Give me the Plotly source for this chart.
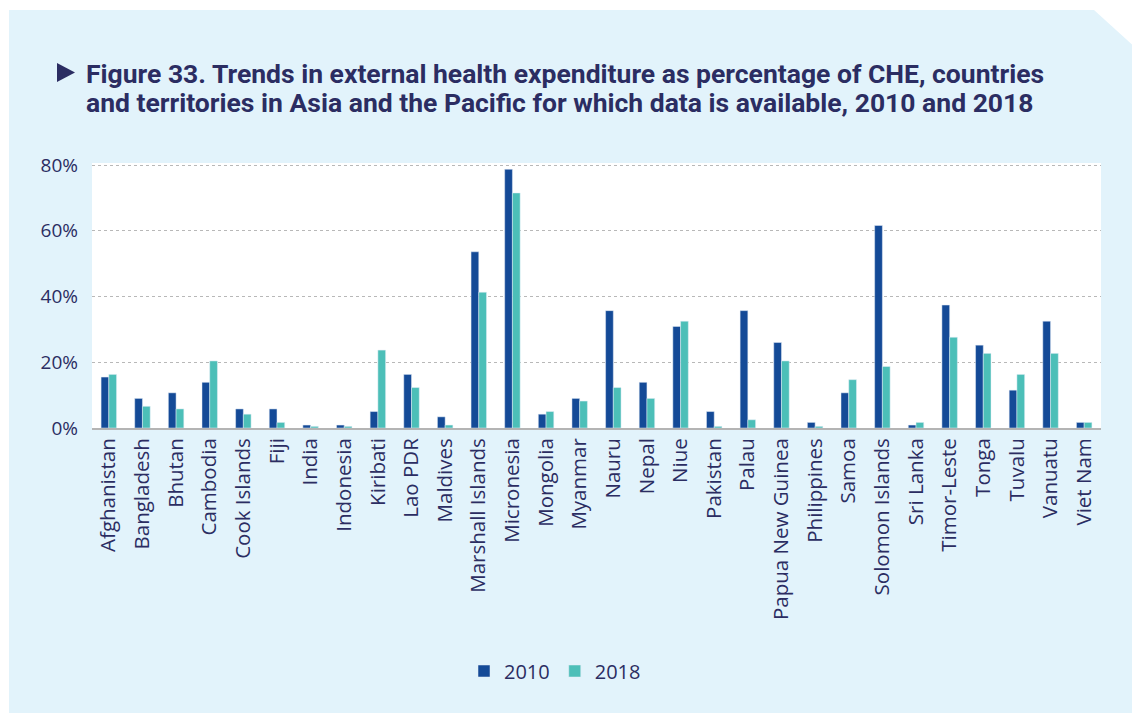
import plotly.graph_objects as go

# External health expenditure as share of current health expenditure (CHE), %
countries = [
    "Afghanistan", "Bangladesh", "Bhutan", "Cambodia", "Cook Islands", "Fiji",
    "India", "Indonesia", "Kiribati", "Lao PDR", "Maldives", "Marshall Islands",
    "Micronesia", "Mongolia", "Myanmar", "Nauru", "Nepal", "Niue", "Pakistan",
    "Palau", "Papua New Guinea", "Philippines", "Samoa", "Solomon Islands",
    "Sri Lanka", "Timor-Leste", "Tonga", "Tuvalu", "Vanuatu", "Viet Nam",
]
ext_2010 = [15.5, 9.0, 10.7, 13.9, 5.8, 5.8, 0.9, 0.9, 5.0, 16.3, 3.4, 53.6,
            78.7, 4.2, 9.0, 35.7, 13.9, 30.9, 5.0, 35.7, 26.0, 1.7, 10.7, 61.6,
            0.9, 37.4, 25.2, 11.5, 32.5, 1.7]
ext_2018 = [16.3, 6.6, 5.8, 20.4, 4.2, 1.7, 0.5, 0.5, 23.7, 12.3, 0.9, 41.3,
            71.5, 5.0, 8.2, 12.3, 9.0, 32.5, 0.5, 2.5, 20.4, 0.5, 14.7, 18.7,
            1.7, 27.6, 22.7, 16.3, 22.7, 1.7]
y_ticks = [0, 20, 40, 60, 80]
y_tick_labels = ["0%", "20%", "40%", "60%", "80%"]
title_lines = [
    "Figure 33. Trends in external health expenditure as percentage of CHE, countries",
    "and territories in Asia and the Pacific for which data is available, 2010 and 2018",
]

W, H = 1132, 713
L, R, T, B = 92, 31, 163, 285
PW, PH = W - L - R, H - T - B
Y_MAX = 80 * PH / (PH - 2)  # leaves the 80% gridline just inside the plot area

NAVY_TEXT = "#2b2d62"
PANEL = "#e2f3fb"
C2010 = "#144a97"
C2018 = "#4cbfb8"


def px(x):
    return (x - L) / PW


def py(y):
    return (H - B - y) / PH


fig = go.Figure()
fig.add_trace(go.Bar(name="2010", x=countries, y=ext_2010, marker_color=C2010))
fig.add_trace(go.Bar(name="2018", x=countries, y=ext_2018, marker_color=C2018))

shapes = [
    # white margins outside the light-blue panel
    dict(type="rect", xref="paper", yref="paper", x0=px(-5), x1=px(9), y0=py(720), y1=py(-5),
         fillcolor="white", line_width=0, layer="below"),
    dict(type="rect", xref="paper", yref="paper", x0=px(-5), x1=px(W + 5), y0=py(10), y1=py(-5),
         fillcolor="white", line_width=0, layer="below"),
    dict(type="path", xref="paper", yref="paper",
         path=f"M {px(1094)},{py(10)} L {px(W + 5)},{py(10)} L {px(W + 5)},{py(49)} Z",
         fillcolor="white", line_width=0, layer="below"),
    # title marker
    dict(type="path", xref="paper", yref="paper",
         path=f"M {px(57)},{py(63)} L {px(75)},{py(72.5)} L {px(57)},{py(82)} Z",
         fillcolor=NAVY_TEXT, line_width=0),
]

annotations = [
    dict(xref="paper", yref="paper", x=px(84), y=py(cy), xanchor="left", yanchor="middle",
         align="left", showarrow=False, text=f"<b>{line}</b>",
         font=dict(family="Roboto", size=26.5, color=NAVY_TEXT))
    for line, cy in zip(title_lines, [73, 102])
]

fig.update_layout(
    width=W, height=H,
    margin=dict(l=L, r=R, t=T, b=B, autoexpand=False),
    paper_bgcolor=PANEL,
    plot_bgcolor="white",
    barmode="group",
    bargap=0.54,
    bargroupgap=0.0,
    shapes=shapes,
    annotations=annotations,
    font=dict(family="Open Sans", color=NAVY_TEXT, size=17),
    showlegend=True,
    legend=dict(orientation="h", x=px(555), xanchor="center", y=py(671), yanchor="middle",
                font=dict(size=20, color=NAVY_TEXT), bgcolor="rgba(0,0,0,0)",
                traceorder="normal"),
)

fig.update_xaxes(
    tickangle=-90, showgrid=False, showline=True, linecolor="#b4b4b4", linewidth=2,
    ticks="", tickfont=dict(size=20.5, color=NAVY_TEXT), fixedrange=True,
)
fig.update_yaxes(
    range=[0, Y_MAX], tickvals=y_ticks, ticktext=y_tick_labels,
    showgrid=True, gridcolor="#b8b8b8", gridwidth=1.3, griddash="dot",
    zeroline=False, showline=False, ticks="", ticklabelstandoff=13,
    tickfont=dict(size=19, color=NAVY_TEXT), fixedrange=True,
)

fig.write_html("out.html")
